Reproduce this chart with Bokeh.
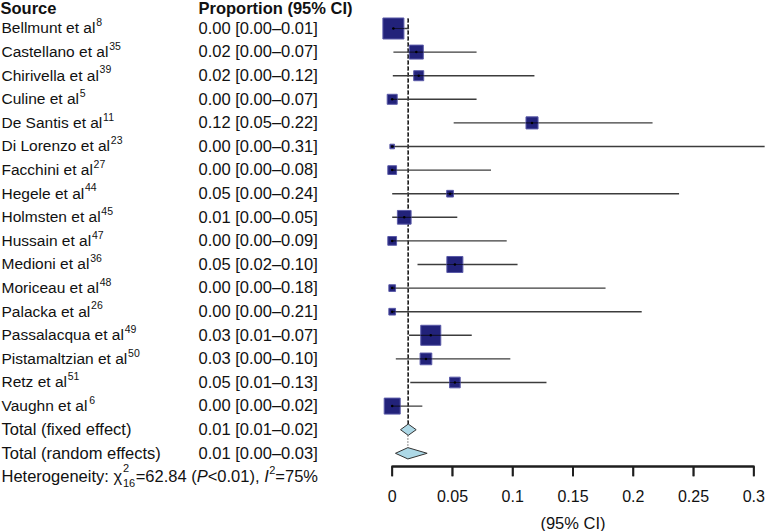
from bokeh.plotting import figure
from bokeh.models import Range1d, FixedTicker
from bokeh.embed import file_html
from bokeh.resources import INLINE
from bokeh.core.properties import value

# ---------------- data ----------------
studies = ["Bellmunt et al", "Castellano et al", "Chirivella et al", "Culine et al",
           "De Santis et al", "Di Lorenzo et al", "Facchini et al", "Hegele et al",
           "Holmsten et al", "Hussain et al", "Medioni et al", "Moriceau et al",
           "Palacka et al", "Passalacqua et al", "Pistamaltzian et al", "Retz et al",
           "Vaughn et al"]
refs = ["8", "35", "39", "5", "11", "23", "27", "44", "45", "47", "36", "48", "26",
        "49", "50", "51", "6"]
ci_text = ["0.00 [0.00\u20130.01]", "0.02 [0.00\u20130.07]", "0.02 [0.00\u20130.12]",
           "0.00 [0.00\u20130.07]", "0.12 [0.05\u20130.22]", "0.00 [0.00\u20130.31]",
           "0.00 [0.00\u20130.08]", "0.05 [0.00\u20130.24]", "0.01 [0.00\u20130.05]",
           "0.00 [0.00\u20130.09]", "0.05 [0.02\u20130.10]", "0.00 [0.00\u20130.18]",
           "0.00 [0.00\u20130.21]", "0.03 [0.01\u20130.07]", "0.03 [0.00\u20130.10]",
           "0.05 [0.01\u20130.13]", "0.00 [0.00\u20130.02]"]
est = [0.001, 0.020, 0.022, 0.000, 0.116, 0.000, 0.000, 0.048, 0.010, 0.000,
       0.052, 0.000, 0.000, 0.032, 0.028, 0.052, 0.000]
lo = [0.000, 0.001, 0.0005, 0.000, 0.051, 0.000, 0.000, 0.000, 0.000, 0.000,
      0.021, 0.000, 0.000, 0.014, 0.003, 0.015, 0.000]
hi = [0.014, 0.070, 0.118, 0.070, 0.216, 0.309, 0.082, 0.238, 0.054, 0.095,
      0.104, 0.177, 0.207, 0.066, 0.098, 0.128, 0.025]
weights = [16.7, 7.4, 3.8, 3.8, 5.5, 0.8, 2.9, 1.7, 7.1, 2.9, 9.7, 1.7, 1.7,
           15.2, 5.2, 4.3, 9.7]

pooled_labels = ["Total (fixed effect)", "Total (random effects)"]
pooled_text = ["0.01 [0.01\u20130.02]", "0.01 [0.00\u20130.03]"]
pooled_est = [0.0133, 0.0130]
pooled_lo = [0.0069, 0.0027]
pooled_hi = [0.0199, 0.0290]

tick_values = [0.0, 0.05, 0.1, 0.15, 0.2, 0.25, 0.3]
tick_labels = ["0", "0.05", "0.1", "0.15", "0.2", "0.25", "0.3"]
x_title = "(95% CI)"

het_main = ["Heterogeneity: ", "\u03c7"]
het_sup, het_sub = "2", "16"
het_rest = [("=62.84 (", "normal"), ("P", "italic"), ("<0.01), ", "normal"), ("I", "italic")]
het_i2_sup = "2"
het_end = "=75%"

# ---------------- helpers ----------------
FONT = "Liberation Sans"
W = {' ': 278, '(': 333, ')': 333, ',': 278, '-': 333, '.': 278, ':': 278, '[': 278,
     ']': 278, '%': 889, '<': 584, '=': 584, '\u2013': 556, '\u03c7': 521}
for c in "0123456789":
    W[c] = 556
W.update(dict(zip("abcdefghijklmnopqrstuvwxyz",
                  [556, 556, 500, 556, 556, 278, 556, 556, 222, 222, 500, 222, 833,
                   556, 556, 556, 556, 333, 500, 278, 556, 500, 722, 500, 500, 500])))
W.update(dict(zip("ABCDEFGHIJKLMNOPQRSTUVWXYZ",
                  [667, 667, 722, 722, 667, 611, 778, 722, 278, 500, 667, 556, 833,
                   722, 778, 667, 778, 722, 667, 611, 722, 667, 944, 667, 667, 611])))


def tw(s, size):
    return sum(W.get(ch, 556) for ch in s) * size / 1000.0


WIDTH, H = 774, 531
ROW0 = 28.0        # page y of first row centre
STEP = 23.6        # px per row
AX_H = 55          # height of the label panel below the frame
RULE_PX = 466      # page y of the scale's rule
TICK_PX = 10       # tick length
n = len(studies)
# rows run downwards, so the y coordinate is minus the row number
rows = [-i for i in range(n)]
prow = [-n, -(n + 1)]
het_row = -(n + 2.0)
head_row = 0.85
title_row = -(522 - ROW0) / STEP

y_top = ROW0 / STEP
y_bottom = -(H - AX_H - ROW0) / STEP
y_rule = -(RULE_PX - ROW0) / STEP
tick_len = TICK_PX / STEP

PX_PER_UNIT = 361.6 / 0.3
ZERO_PX = 391.7
x_start = -ZERO_PX / PX_PER_UNIT
x_end = x_start + WIDTH / PX_PER_UNIT

NAME_X = 1
VAL_X = 198
NAME_SIZE = 15.5
VAL_SIZE = 16.5
BASE = -0.7
TEXT_COLOR = "#111111"
AXIS_COLOR = "#1e1e1e"

p = figure(width=WIDTH, height=H, x_range=Range1d(x_start, x_end),
           y_range=Range1d(y_bottom, y_top), output_backend="svg",
           toolbar_location=None, y_axis_location=None, min_border=0,
           min_border_bottom=AX_H, outline_line_color=None)
p.extra_x_ranges = {"px": Range1d(0, WIDTH)}
p.xgrid.visible = False
p.ygrid.visible = False

# ---------------- text columns ----------------
common = dict(text_font=value(FONT), text_color=TEXT_COLOR, text_baseline="alphabetic",
              text_align="left", x_range_name="px", level="overlay")
p.text(x=[0, VAL_X], y=[head_row, head_row], text=["Source", "Proportion (95% CI)"],
       text_font_size="16.5px", text_font_style="bold", y_offset=BASE, **common)
p.text(x=[NAME_X] * n, y=rows, text=studies, text_font_size=f"{NAME_SIZE}px",
       y_offset=BASE, **common)
sup_x = [NAME_X + tw(s, NAME_SIZE) + 0.8 for s in studies]
p.text(x=sup_x, y=rows, text=refs, text_font_size="10.5px", y_offset=BASE - 5.6, **common)
p.text(x=[VAL_X] * n, y=rows, text=ci_text, text_font_size=f"{VAL_SIZE}px",
       y_offset=BASE, **common)
p.text(x=[NAME_X] * 2, y=prow, text=pooled_labels, text_font_size=f"{VAL_SIZE}px",
       y_offset=BASE, **common)
p.text(x=[VAL_X] * 2, y=prow, text=pooled_text, text_font_size=f"{VAL_SIZE}px",
       y_offset=BASE, **common)

# heterogeneity line, laid out piece by piece
HS = 16.5
SS = 11
hx, ht, hst, hsz, hoff = [], [], [], [], []
x = NAME_X
for t in het_main:
    hx.append(x); ht.append(t); hst.append("normal"); hsz.append(f"{HS}px"); hoff.append(BASE)
    x += tw(t, HS)
x += 1
hx += [x, x]; ht += [het_sup, het_sub]; hst += ["normal", "normal"]
hsz += [f"{SS}px", f"{SS}px"]; hoff += [BASE - 8, BASE + 7]
x += max(tw(het_sup, SS), tw(het_sub, SS)) + 0.5
for t, st in het_rest:
    hx.append(x); ht.append(t); hst.append(st); hsz.append(f"{HS}px"); hoff.append(BASE)
    x += tw(t, HS)
hx.append(x + 0.5); ht.append(het_i2_sup); hst.append("normal"); hsz.append(f"{SS}px")
hoff.append(BASE - 6)
x += tw(het_i2_sup, SS) + 0.5
hx.append(x); ht.append(het_end); hst.append("normal"); hsz.append(f"{HS}px"); hoff.append(BASE)
p.text(x=hx, y=[het_row] * len(hx), text=ht, text_font_style=hst, text_font_size=hsz,
       y_offset=hoff, **common)

# x-axis title centred under the scale
p.text(x=[(tick_values[0] + tick_values[-1]) / 2], y=[title_row], text=[x_title],
       text_font=value(FONT), text_color=TEXT_COLOR, text_baseline="middle",
       text_align="center", text_font_size="16.5px", level="overlay")

# ---------------- forest panel ----------------
half_d = 0.24
top_line = 0.42
p.segment(x0=[pooled_est[0]], y0=[top_line], x1=[pooled_est[0]], y1=[prow[0] + half_d],
          line_color="#1a1a1a", line_width=1.6, line_dash="4 2")
p.segment(x0=[pooled_est[1]], y0=[top_line], x1=[pooled_est[1]], y1=[prow[1] + half_d],
          line_color="#444444", line_width=1.2, line_dash="1 2")

sides = [5.14 * w ** 0.5 for w in weights]
p.segment(x0=lo, y0=rows, x1=hi, y1=rows, line_color="#3c3c3c", line_width=1.4)
p.scatter(x=est, y=rows, size=sides, marker="square", fill_color="#22227a",
          line_color="#5a5aa8", line_width=1)
p.segment(x0=[max(l, e - s / 2 / PX_PER_UNIT) for l, e, s in zip(lo, est, sides)], y0=rows,
          x1=[min(h, e + s / 2 / PX_PER_UNIT) for h, e, s in zip(hi, est, sides)], y1=rows,
          line_color="#111133", line_width=1.2)
p.scatter(x=est, y=rows, size=2.5, marker="circle", fill_color="#000000",
          line_color=None)

dxs = [[l, e, h, e] for l, e, h in zip(pooled_lo, pooled_est, pooled_hi)]
dys = [[r, r + half_d, r, r - half_d] for r in prow]
p.patches(xs=dxs, ys=dys, fill_color="#add8e6", line_color="#333333", line_width=1)

# scale rule and tick marks (inside the frame, positioned by the x scale)
half_w = 0.9 / STEP
tick_hw = 0.9 / PX_PER_UNIT
p.quad(left=[tick_values[0] - tick_hw], right=[tick_values[-1] + tick_hw],
       top=[y_rule + half_w], bottom=[y_rule - half_w],
       fill_color=AXIS_COLOR, line_color=None)
p.quad(left=[t - tick_hw for t in tick_values], right=[t + tick_hw for t in tick_values],
       top=[y_rule] * len(tick_values), bottom=[y_rule - tick_len] * len(tick_values),
       fill_color=AXIS_COLOR, line_color=None)
p.segment(x0=[tick_values[0]], y0=[y_rule], x1=[tick_values[-1]], y1=[y_rule],
          line_color=AXIS_COLOR, line_width=1.8)
p.segment(x0=tick_values, y0=[y_rule] * len(tick_values), x1=tick_values,
          y1=[y_rule - tick_len] * len(tick_values), line_color=AXIS_COLOR,
          line_width=1.8)

# ---------------- x axis (tick labels) ----------------
ax = p.xaxis[0]
ax.bounds = (tick_values[0], tick_values[-1])
ax.ticker = FixedTicker(ticks=tick_values)
ax.major_label_overrides = {v: lab for v, lab in zip(tick_values, tick_labels)}
ax.minor_tick_line_color = None
ax.major_tick_line_color = None
ax.axis_line_color = None
ax.major_tick_in = 0
ax.major_tick_out = 0
ax.major_label_text_font = FONT
ax.major_label_text_font_size = "16px"
ax.major_label_text_color = TEXT_COLOR
ax.major_label_standoff = 13

open("out.html", "w").write(file_html(p, INLINE))
